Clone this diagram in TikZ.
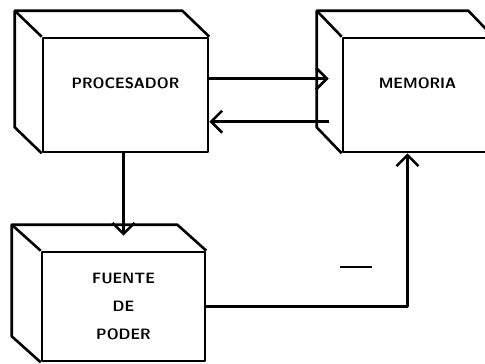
\documentclass[tikz,border=0pt]{standalone}
\usetikzlibrary{arrows.meta}
\begin{document}
\begin{tikzpicture}[x=1pt, y=-1pt, line width=2.6pt, line join=round,
  face/.style={draw, rectangle, inner sep=0pt, align=center,
    font=\fontsize{15}{28}\selectfont\sffamily\bfseries},
  conn/.style={-{Straight Barb[length=11pt, width=22pt]}}]
  \clip (0,0) rectangle (485,364);
  % front faces
  \node[face, minimum width=165pt, minimum height=114pt] (proc) at (125.5,95) {PROCESADOR\\[-4pt]~};
  \node[face, minimum width=149pt, minimum height=114pt] (mem)  at (417.5,95) {MEMORIA\\[-4pt]~};
  \node[face, minimum width=163pt, minimum height=109pt] (fuen) at (123.5,306.5) {FUENTE\\DE\\PODER};
  % side and top faces
  \foreach \b/\dx/\dy in {proc/27/26, mem/25/26, fuen/29/26}
    { \draw (\b.south west) -- ([shift={(-\dx,-\dy)}]\b.south west)
        -- ([shift={(-\dx,-\dy)}]\b.north west) -- ([shift={(-\dx,-\dy)}]\b.north east) -- (\b.north east);
      \draw (\b.north west) -- ([shift={(-\dx,-\dy)}]\b.north west); }
  % connections
  \draw[conn] ([yshift=-42pt]proc.north east) -- ([xshift=-13pt, yshift=-42pt]mem.north west);
  \draw[conn] ([xshift=-13pt, yshift=-85pt]mem.north west) -- ([yshift=-85pt]proc.north east);
  \draw[conn] (fuen.north |- proc.south) -- ([yshift=15pt]fuen.north);
  \draw[conn] (fuen.east) -| ([xshift=-10pt]mem.south);
  \draw[line width=1.6pt] (340,267) -- (372,267);
\end{tikzpicture}
\end{document}
